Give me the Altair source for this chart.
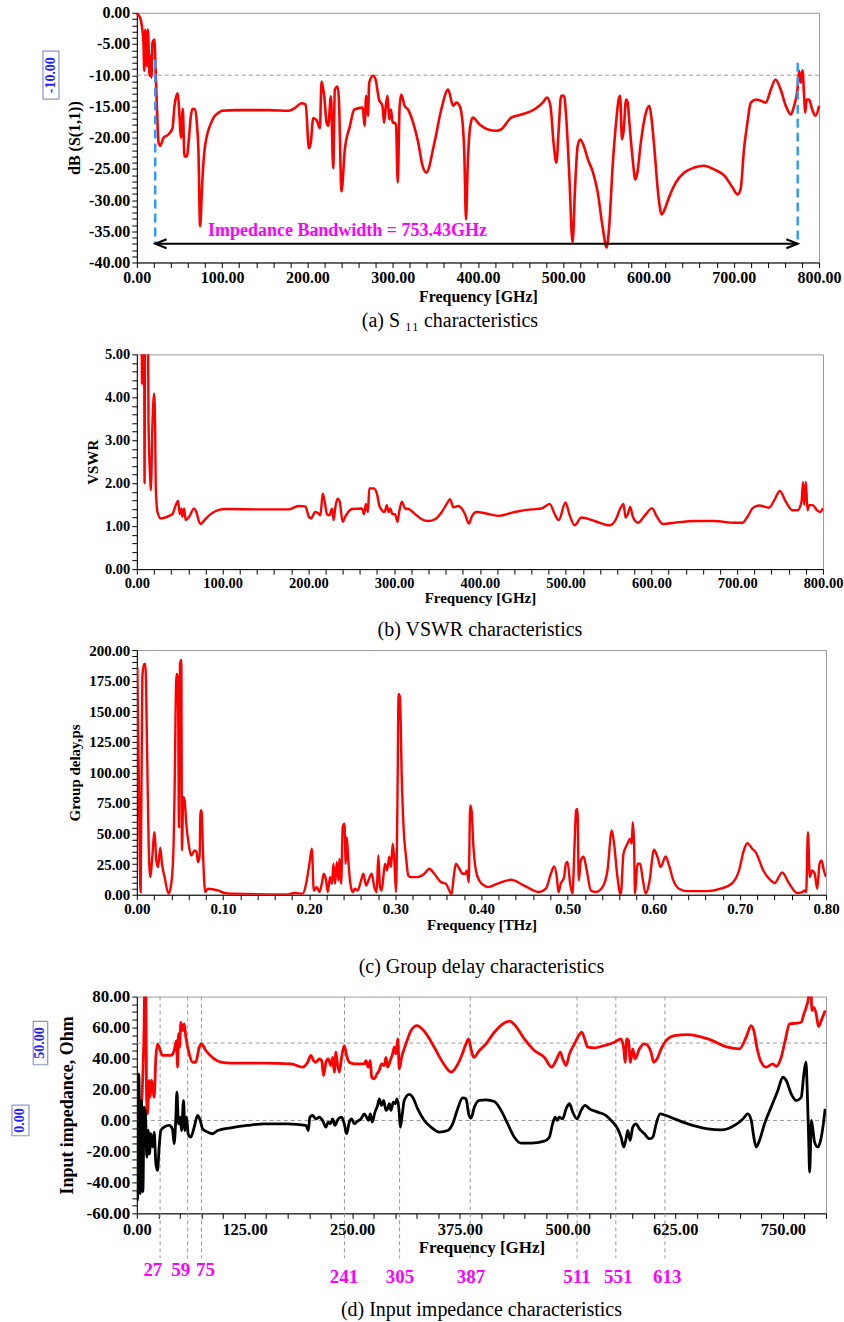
import altair as alt
import pandas as pd

FONT = "Liberation Serif"
RED = "#FF0000"
MAGENTA = "#FF00FF"
BLUE_TXT = "#1F1FFF"
BOX = "#8A96C8"
GRID = "#9A9A9A"

# ---------------- (a) S11 ----------------
s11_freq = [0, 3.9, 5.9, 7.8, 8.8, 9.8, 11.8, 13.0, 14.9, 16.0,
            17.0, 18.4, 20.8, 21.6, 23.5, 25.5, 27.3, 31.4, 37.0, 41.8,
            44.1, 47.0, 48.0, 49.6, 51.9, 53.9, 55.8, 58.5, 61.0, 63.0,
            65.2, 68.3, 70.6, 72.2, 74.2, 76.5, 79.0, 82.0, 86.0, 90.0,
            95.0, 100.0, 116.0, 155.0, 178.0, 186.0, 193.0, 198.0, 201.8, 204.0,
            206.9, 210.8, 214.7, 216.6, 219.8, 222.5, 224.4, 227.6, 230.3, 232.2,
            235.4, 237.0, 240.0, 243.9, 249.8, 255.0, 265.0, 267.0, 269.0, 271.0,
            272.5, 277.0, 280.0, 284.0, 288.0, 290.0, 292.0, 294.0, 296.0, 298.0,
            300.0, 302.0, 304.0, 306.0, 308.0, 310.0, 314.0, 318.0, 324.0, 330.0,
            335.0, 339.5, 349.0, 357.0, 365.0, 371.0, 374.6, 378.5, 382.0, 384.0,
            386.0, 388.0, 391.0, 394.0, 402.0, 412.0, 421.5, 427.0, 439.0, 451.0,
            466.0, 476.0, 481.0, 485.0, 489.0, 492.0, 494.5, 497.6, 501.0, 503.4,
            507.0, 511.0, 514.0, 517.0, 520.0, 524.0, 529.0, 535.0, 540.5, 546.0,
            551.0, 554.0, 558.0, 562.0, 565.0, 566.7, 569.0, 571.0, 573.7, 575.6,
            577.6, 581.5, 584.6, 587.0, 591.0, 597.0, 601.0, 603.7, 607.0, 611.6,
            615.5, 619.0, 624.0, 632.0, 642.0, 653.7, 665.0, 677.0, 689.0, 698.6,
            704.5, 708.0, 712.0, 716.0, 720.0, 726.0, 732.0, 737.6, 743.5, 749.0,
            755.0, 761.0, 767.0, 770.8, 774.7, 776.7, 778.6, 780.6, 782.5, 783.7,
            785.6, 788.3, 792.0, 796.0, 800.0]
s11_db = [-0.1, -0.8, -2.1, -4.8, -9.3, -2.7, -8.5, -2.7, -10.1, -6.9,
          -10.4, -4.8, -4.3, -7.5, -14.9, -20.8, -21.3, -20.0, -19.5, -18.5,
          -15.0, -13.1, -12.9, -15.6, -20.0, -15.4, -23.0, -23.0, -20.3, -17.0,
          -15.4, -15.5, -18.1, -21.9, -34.2, -27.7, -22.5, -19.8, -18.0, -16.8,
          -16.1, -15.7, -15.6, -15.6, -15.7, -15.2, -14.5, -14.7, -21.7, -20.8,
          -16.9, -17.2, -18.5, -11.0, -13.4, -17.6, -18.1, -13.4, -24.9, -12.3,
          -11.8, -14.0, -28.6, -21.9, -18.2, -15.5, -15.2, -18.1, -13.3, -16.5,
          -11.2, -10.1, -10.7, -13.9, -14.9, -17.6, -14.9, -13.3, -17.1, -15.5,
          -17.6, -17.6, -18.1, -27.2, -15.5, -13.1, -14.9, -15.5, -17.6, -20.8,
          -24.5, -25.6, -20.8, -15.5, -12.3, -14.9, -14.4, -14.9, -17.6, -22.4,
          -33.1, -24.5, -18.1, -16.8, -17.9, -18.7, -18.9, -18.7, -16.8, -16.3,
          -15.5, -14.4, -13.6, -14.9, -21.3, -24.0, -19.2, -13.3, -13.3, -16.5,
          -25.6, -36.8, -27.7, -21.3, -20.3, -21.3, -23.5, -25.6, -28.8, -34.1,
          -37.6, -34.1, -24.5, -17.6, -13.9, -13.3, -20.3, -18.7, -13.9, -14.4,
          -17.6, -23.5, -26.7, -25.6, -20.8, -16.0, -14.9, -17.1, -21.9, -29.3,
          -32.3, -31.5, -29.6, -27.2, -25.6, -24.8, -24.5, -25.1, -26.1, -28.0,
          -29.1, -28.3, -21.9, -17.6, -14.4, -13.9, -14.1, -14.4, -12.3, -10.7,
          -12.3, -14.9, -16.3, -14.9, -12.3, -9.3, -11.2, -9.2, -13.3, -16.0,
          -13.9, -13.9, -15.5, -16.5, -14.9]
s11_ref = -10.0
bw_edges = [21.57, 775.0]
bw_tops = [-7.5, -8.0]
bw_arrow_level = -37.0
bw_label = "Impedance Bandwidth = 753.43GHz"

# ---------------- (b) VSWR ----------------
vswr_freq = [0, 5.5, 6.0, 6.6, 8.2, 9.0, 10.0, 12.0, 13.6, 15.6,
             16.3, 18.3, 20.2, 21.4, 22.1, 24.1, 27.9, 37.7, 41.5, 45.4,
             48.1, 50.0, 52.0, 53.1, 55.1, 57.0, 61.0, 66.7, 69.4, 72.6,
             74.4, 78.4, 86.0, 95.8, 103.5, 146.0, 177.0, 188.8, 196.5, 200.5,
             203.0, 208.0, 212.0, 214.0, 216.7, 219.0, 221.7, 224.4, 227.6, 229.5,
             231.4, 234.2, 236.5, 240.0, 243.0, 250.8, 262.4, 265.0, 267.0, 269.4,
             271.0, 276.0, 279.9, 282.6, 285.7, 288.8, 291.5, 293.5, 295.5, 298.0,
             301.0, 303.9, 305.8, 309.0, 312.8, 316.7, 324.4, 332.2, 340.0, 347.7,
             355.5, 361.3, 365.1, 369.0, 374.9, 378.8, 382.6, 387.2, 390.4, 396.2,
             406.0, 421.4, 440.7, 460.0, 471.7, 481.4, 487.2, 491.9, 499.7, 504.7,
             510.5, 518.3, 533.7, 551.2, 559.0, 563.6, 567.4, 569.8, 572.5, 575.2,
             578.3, 584.2, 591.9, 600.8, 605.5, 613.3, 626.7, 650.0, 673.0, 696.5,
             706.0, 712.0, 718.0, 725.6, 737.2, 743.0, 749.7, 756.6, 764.4, 770.2,
             774.9, 776.8, 778.0, 780.0, 781.9, 783.8, 787.7, 793.6, 796.6, 800.0]
vswr_val = [60, 8, 4.32, 8, 9, 2.0, 9, 9, 3.43, 2.1,
            1.84, 3.43, 4.09, 3.19, 1.88, 1.33, 1.18, 1.24, 1.28, 1.49,
            1.59, 1.28, 1.41, 1.22, 1.41, 1.14, 1.22, 1.41, 1.33, 1.10,
            1.05, 1.13, 1.28, 1.38, 1.40, 1.39, 1.39, 1.47, 1.46, 1.22,
            1.18, 1.33, 1.29, 1.25, 1.76, 1.57, 1.28, 1.25, 1.41, 1.14,
            1.44, 1.64, 1.57, 1.10, 1.22, 1.40, 1.41, 1.28, 1.52, 1.33,
            1.88, 1.88, 1.76, 1.49, 1.37, 1.33, 1.49, 1.33, 1.41, 1.28,
            1.28, 1.10, 1.33, 1.57, 1.41, 1.40, 1.28, 1.16, 1.12, 1.16,
            1.33, 1.52, 1.63, 1.44, 1.47, 1.41, 1.28, 1.06, 1.22, 1.33,
            1.30, 1.24, 1.33, 1.39, 1.41, 1.52, 1.28, 1.14, 1.55, 1.25,
            1.02, 1.20, 1.12, 1.02, 1.18, 1.41, 1.52, 1.20, 1.28, 1.45,
            1.22, 1.08, 1.24, 1.42, 1.25, 1.05, 1.08, 1.12, 1.12, 1.08,
            1.08, 1.22, 1.42, 1.48, 1.43, 1.60, 1.82, 1.57, 1.37, 1.37,
            1.57, 2.03, 1.49, 2.03, 1.37, 1.49, 1.49, 1.36, 1.33, 1.42]

# ---------------- (c) group delay (frequency read in GHz) ----------------
gd_freq_ghz = [0.6, 2.1, 4.4, 6.4, 8.3, 9.9, 11.8, 13.7, 15.7, 17.6,
               20.6, 22.6, 24.6, 27.2, 29.2, 32.2, 36.9, 40.0, 42.7, 43.8,
               45.0, 46.1, 47.7, 48.9, 50.1, 51.6, 52.4, 53.9, 55.5, 57.4,
               60.1, 63.2, 67.0, 69.3, 70.9, 72.8, 74.0, 75.2, 76.7, 79.4,
               82.5, 94.1, 101.8, 109.5, 175.3, 183.0, 192.7, 196.5, 200.3, 203.1,
               205.4, 208.9, 212.0, 214.7, 217.0, 219.7, 221.6, 224.3, 226.6, 228.2,
               230.1, 232.1, 234.0, 235.2, 237.1, 239.0, 241.0, 242.5, 243.7, 245.6,
               247.9, 250.6, 253.3, 256.4, 260.3, 263.0, 266.1, 268.8, 272.6, 275.7,
               278.4, 280.3, 282.3, 284.2, 288.1, 290.4, 293.1, 295.0, 297.0, 298.9,
               300.8, 302.4, 303.9, 305.4, 307.5, 309.8, 312.5, 315.1, 318.2, 326.0,
               333.7, 339.5, 345.3, 353.0, 358.8, 362.7, 365.4, 367.8, 370.4, 374.3,
               378.2, 381.3, 383.2, 385.2, 387.0, 388.6, 390.5, 393.6, 397.5, 403.2,
               407.2, 418.8, 434.2, 449.6, 467.0, 474.8, 480.6, 484.4, 487.5, 489.4,
               492.1, 496.0, 498.0, 499.9, 503.0, 505.7, 508.0, 509.9, 511.5, 513.0,
               515.4, 518.5, 522.3, 527.0, 532.8, 540.5, 546.3, 551.3, 554.0, 557.9,
               561.7, 564.9, 569.5, 572.6, 574.5, 575.7, 577.2, 578.3, 581.1, 584.2,
               586.9, 590.8, 594.6, 600.4, 604.3, 608.1, 613.9, 617.8, 622.8, 629.3,
               639.0, 662.2, 677.7, 691.2, 699.0, 704.6, 708.6, 714.4, 718.3, 727.2,
               735.7, 740.3, 749.2, 756.9, 766.6, 772.4, 775.1, 777.0, 779.0, 781.2,
               783.8, 786.9, 789.8, 792.5, 794.8, 797.5, 800.0]
gd_ps = [185.9, 104, 2.2, 177.7, 188.6, 188.6, 123, 41.6, 14.4, 28,
         51.2, 28, 22.6, 38.4, 25.3, 14.4, 0.8, 9, 41.6, 82.4,
         150.4, 180.4, 177.7, 55.3, 188.6, 191.8, 36.2, 79.8, 77, 58,
         41.6, 32, 36.2, 35, 26.7, 31, 68.8, 68.8, 36.2, 2.2,
         4.9, 3.5, 1.4, 0.8, 0.3, 1.4, 0.8, 9, 25.3, 37.6,
         3.5, 6.2, 2.2, 9, 17.1, 11.7, 2.2, 14.4, 9, 25.3,
         9, 26.7, 11.7, 29.5, 9, 55.3, 58, 25.3, 47, 26.7,
         9, 2.2, 4.9, 3.5, 11.7, 17.1, 7.5, 11.7, 17.1, 6.2,
         2.2, 32, 6.2, 3.5, 25.3, 19.8, 31, 22.6, 41.6, 28,
         2.2, 68.8, 164, 161.4, 96, 52.5, 31, 15.8, 14.4, 14.4,
         17.1, 21.2, 17.1, 10.3, 9, 3.5, 0.3, 14.4, 25.3, 21.2,
         17.1, 17.1, 19.8, 10.3, 72.9, 68.8, 41.6, 19.8, 11.7, 7.5,
         6.2, 9, 12.2, 7.5, 2.2, 4.9, 17.1, 23.1, 14.4, 2.2,
         9, 14.4, 25.3, 26.7, 9, 0.8, 38.9, 68.8, 70.2, 11.7,
         28, 31, 19.8, 3.5, 2.2, 6.2, 19.8, 52.5, 41.6, 14.4,
         0, 33.5, 41.6, 45.7, 41.6, 59.3, 41.6, 0.8, 25.3, 25.3,
         14.4, 0.8, 9, 36.7, 31, 22.6, 31.3, 23.9, 11.7, 4.9,
         2.9, 2.9, 4.9, 9.5, 19.8, 36.2, 42.2, 37.6, 34.8, 19.8,
         11.7, 9.5, 18.2, 9.5, 1.4, 2.2, 3.5, 2.2, 51.2, 14.4,
         19.8, 17.1, 4.9, 25.3, 28, 19.8, 14.4]

# ---------------- (d) input impedance ----------------
zre_freq = [0, 2.4, 5.4, 7.0, 8.5, 9.3, 10.4, 11.2, 12.4, 14.3,
            15.5, 17.0, 19.0, 20.1, 22.1, 24.0, 25.9, 29.8, 39.5, 43.3,
            46.1, 47.3, 48.4, 49.6, 51.1, 53.0, 55.0, 56.9, 60.8, 64.7,
            68.5, 72.4, 75.1, 80.1, 89.8, 97.6, 109.2, 147.9, 178.9, 192.4,
            198.3, 202.1, 205.2, 207.9, 211.8, 214.5, 216.8, 219.5, 222.2, 225.3,
            227.3, 229.2, 231.1, 232.3, 235.0, 237.7, 240.8, 243.5, 246.6, 252.4,
            264.0, 266.0, 268.7, 271.0, 272.6, 275.7, 278.7, 281.4, 284.1, 287.2,
            289.2, 291.1, 294.2, 296.9, 298.9, 300.8, 302.8, 304.7, 307.4, 312.4,
            318.2, 325.2, 333.7, 345.3, 355.0, 364.7, 370.5, 376.3, 382.1, 385.2,
            387.9, 391.0, 397.6, 405.3, 415.0, 432.4, 438.2, 449.8, 461.4, 473.0,
            481.6, 486.6, 491.6, 494.3, 498.3, 502.2, 508.0, 511.8, 516.5, 520.4,
            523.4, 531.1, 542.7, 554.3, 562.1, 565.2, 566.8, 568.7, 570.7, 573.0,
            575.7, 578.4, 583.4, 589.2, 593.1, 596.9, 600.0, 603.9, 608.6, 614.4,
            624.0, 639.6, 662.8, 686.0, 699.5, 707.3, 713.1, 716.2, 720.1, 724.7,
            730.5, 738.3, 742.1, 748.0, 752.6, 757.7, 765.4, 771.2, 774.3, 777.0,
            779.7, 782.0, 783.6, 786.0, 788.6, 791.3, 795.2, 799.0]
zre_ohm = [2.1, 7.5, 10.8, 30.1, 62.4, 95, 95, 19.4, 4.3, 25.8,
           15, 26.1, 19.4, 15, 40.8, 49.5, 47.3, 42, 42, 45.2,
           51.6, 34.4, 56, 47.3, 63.4, 58, 62.4, 53.8, 43, 37.6,
           37.6, 47.3, 49.5, 45.2, 39.8, 37.6, 37, 37, 36.6, 34.4,
           37.6, 42, 38.7, 37.6, 39.8, 38.7, 29, 37.6, 39.8, 35.5,
           40.8, 31.2, 44.1, 38.7, 31.2, 40.8, 48.4, 42, 37.6, 36.6,
           36.6, 38.7, 34.4, 38.7, 27.9, 26.9, 30.1, 32.3, 36.6, 35.5,
           40.8, 34.4, 38.7, 43, 47.3, 43, 52.7, 33.4, 40.8, 49.5,
           58, 61.3, 57.6, 47.3, 37.6, 31.2, 34.4, 40.8, 49.5, 52.7,
           46.3, 40.8, 45.2, 49.5, 57, 64.1, 62, 52.7, 45.2, 40.8,
           34.4, 38.7, 44.1, 39.8, 35.5, 43, 49.5, 53.8, 57, 51.6,
           47.3, 46.9, 48.4, 50.5, 52.7, 46.3, 37.6, 52.7, 51.6, 37.6,
           46.3, 39.8, 46.3, 49.5, 48.4, 44.1, 37.6, 39.8, 46.3, 51.6,
           54.8, 55.5, 52.7, 47.3, 46.3, 53.8, 61.3, 58, 46.3, 37.6,
           34.4, 36.6, 34.9, 40.8, 51.6, 62.4, 62.8, 63.4, 68.8, 73.1,
           79.5, 95, 71, 73.1, 68.8, 60.6, 65.6, 71]
zim_freq = [0, 0.8, 2.3, 3.9, 5.4, 7.0, 8.5, 10.0, 11.6, 13.2,
            14.7, 16.3, 18.2, 20.1, 22.1, 24.0, 25.9, 27.9, 31.7, 37.5,
            41.3, 43.3, 45.3, 46.5, 48.4, 50.3, 51.9, 54.2, 55.8, 57.7,
            59.6, 62.7, 66.6, 70.5, 73.6, 76.3, 82.1, 87.9, 93.8, 109.2,
            128.5, 147.9, 175.0, 196.3, 199.0, 200.9, 204.0, 207.9, 211.8, 215.6,
            219.5, 222.2, 224.5, 227.3, 229.9, 233.8, 237.7, 240.8, 243.5, 246.6,
            249.3, 252.4, 256.2, 260.1, 264.0, 266.7, 269.0, 271.0, 273.3, 276.4,
            279.5, 281.4, 284.1, 286.5, 289.2, 291.1, 293.1, 295.0, 297.7, 300.0,
            302.0, 304.7, 305.8, 307.7, 310.4, 316.3, 320.2, 326.0, 333.7, 341.5,
            351.1, 360.8, 366.6, 372.4, 378.2, 382.1, 385.2, 387.9, 391.8, 397.6,
            405.3, 415.0, 422.8, 430.5, 438.2, 446.0, 457.6, 473.0, 478.8, 482.6,
            485.5, 487.8, 490.5, 494.3, 498.3, 502.2, 506.0, 511.0, 515.7, 520.3,
            525.4, 535.0, 544.7, 552.4, 558.2, 562.1, 565.2, 567.9, 569.9, 572.6,
            575.7, 579.5, 583.4, 589.2, 595.0, 598.9, 602.8, 607.4, 614.4, 624.0,
            639.6, 662.8, 678.3, 693.8, 703.5, 709.3, 713.2, 716.2, 718.9, 722.8,
            728.6, 736.3, 744.1, 749.9, 753.8, 759.6, 765.4, 771.2, 774.3, 776.7,
            778.2, 779.8, 781.0, 783.0, 784.9, 786.7, 790.6, 793.7, 796.4, 799.0]
zim_ohm = [-45.2, -51.6, 30.1, -47.3, 12.9, -46, 8.6, 4.3, -23.7, -6.5,
           -21.5, -8.6, -17.2, -7.5, -28, -32.3, -17.2, -6.5, -4.3, -3.2,
           -5.4, -15, 2.1, 18.3, -2.2, 2.1, -6.5, 12.9, -6.5, 2.1,
           -8.6, -10.8, -4.3, 3.2, 0, -5.4, -7.5, -8.6, -6.5, -4.8,
           -3.2, -2.2, -2.2, -3.2, -6.5, 2.1, 3.2, 1, 2.1, 0,
           -4.3, -1.1, -2.2, 1, -3.2, 1, 2.1, -2.2, -8.6, -1.1,
           1, -2.2, -0.5, 1, 4.3, 2.1, 0, 4.3, -1.1, 5.4,
           9.7, 14, 9.7, 12.9, 6.5, 7.5, 10.8, 6.5, 11.8, 10.8,
           14, 4.3, -4.3, 2.1, 12.9, 16.8, 15, 7.5, 0, -4.3,
           -7.5, -6.5, -2.2, 7.5, 14.6, 14, 4.3, 1.6, 8.6, 12.9,
           13.3, 12.2, 6.5, -2.2, -10.8, -14.6, -14.6, -13.3, -10.8, -2.2,
           2.1, 0, 2.1, 1, 7.5, 10.8, 5.4, 1, 6.5, 9.7,
           7.5, 5.4, 3.2, -1.1, -5.4, -10.8, -17.2, -11.8, -6.5, -12.9,
           -4.3, -2.2, -5.4, -8.6, -11.8, -10.8, -2.2, 4.3, 3.2, 1,
           -2.2, -5.4, -6.1, -3.2, 1, 4.3, 0, -10.8, -17.2, -12.9,
           -2.2, 8.6, 19.4, 27.9, 25.8, 17.2, 12.9, 15, 30.1, 37.6,
           19.4, -10.8, -33.4, 0, -6.5, -14, -17.2, -12.9, -4.3, 7.5]
z_refs = [50.0, 0.0]
z_ref_labels = ["50.00", "0.00"]
z_marker_freq = [27, 59, 75, 241, 305, 387, 511, 556, 613]
z_label_text_1 = ["27", "59", "75"]
z_label_pos_1 = [18.6, 51.0, 79.6]
z_label_text_2 = ["241", "305", "387", "511", "551", "613"]
z_label_pos_2 = [240.4, 305.5, 388.0, 511.0, 558.7, 615.6]

captions = ["(a) S \u2081\u2081 characteristics", "(b) VSWR characteristics",
            "(c) Group delay characteristics", "(d) Input impedance characteristics"]


# ---------------- helpers ----------------
def ticks(lo, hi, step):
    n = int(round((hi - lo) / step))
    return [round(lo + i * step, 4) for i in range(n + 1)]


def lab(mod):
    return ("abs(datum.value/%s - round(datum.value/%s)) < 1e-6 ? "
            "(datum.value < 0 ? '-' : '') + format(abs(datum.value), '.2f') : ''" % (mod, mod))


def axis(vals, mod, title, lfs, tfs, tpad, lpad=2):
    return alt.Axis(values=vals, labelExpr=lab(mod), title=title, labelFontSize=lfs,
                    titleFontSize=tfs, titlePadding=tpad, labelPadding=lpad, tickSize=5,
                    labelOverlap=False, labelFlush=False, grid=False, domainColor="black",
                    tickColor="black", labelColor="black", titleColor="black",
                    labelFont=FONT, titleFont=FONT, labelFontWeight="bold",
                    titleFontWeight="bold", domainWidth=1, tickWidth=1)


def caption(text, offset, dx=0):
    return alt.TitleParams(text=text, orient="bottom", anchor="middle", font=FONT,
                           fontSize=20, fontWeight="normal", color="black",
                           offset=offset, dx=dx)


def extender(px):
    return alt.Chart(pd.DataFrame({"k": [0]})).mark_rule(opacity=0).encode(
        x=alt.value(0), y=alt.value(px), y2=alt.value(0))


def marker_box(df, y, xpx, path, size, fs):
    box = alt.Chart(df).mark_point(shape=path, size=size, filled=False, color=BOX,
                                   strokeWidth=1.2, opacity=1).encode(x=alt.value(xpx), y=y)
    txt = alt.Chart(df).mark_text(font=FONT, fontSize=fs, fontWeight="bold", color=BLUE_TXT,
                                  angle=270, align="center", baseline="middle").encode(
        x=alt.value(xpx), y=y, text="t:N")
    return box + txt


INTERP = "monotone"

# ---------------- panel (a) ----------------
xa = alt.X("f:Q", scale=alt.Scale(domain=[0, 800], nice=False),
           axis=axis(ticks(0, 800, 20), 100, "Frequency [GHz]", 16, 16, 3))
ya = alt.Y("v:Q", scale=alt.Scale(domain=[-40, 0], nice=False),
           axis=axis(ticks(-40, 0, 1), 5, "dB (S(1,1))", 16, 16, 6))

a_line = alt.Chart(pd.DataFrame({"f": s11_freq, "v": s11_db})).mark_line(
    color=RED, strokeWidth=2.6, interpolate=INTERP).encode(x=xa, y=ya)
a_ref = alt.Chart(pd.DataFrame({"v": [s11_ref]})).mark_rule(
    color=GRID, strokeDash=[4, 3], strokeWidth=1).encode(y=ya)
a_bw = alt.Chart(pd.DataFrame({"f": bw_edges, "v": bw_tops, "v2": [bw_arrow_level] * 2})).mark_rule(
    color="#3399FF", strokeWidth=2.5, strokeDash=[9, 5]).encode(x=xa, y=ya, y2=alt.Y2("v2:Q"))
a_arrow = alt.Chart(pd.DataFrame({"f": [bw_edges[0]], "f2": [bw_edges[1]], "v": [bw_arrow_level]})).mark_rule(
    color="black", strokeWidth=2).encode(x=xa, x2=alt.X2("f2:Q"), y=ya)
a_head_l = alt.Chart(pd.DataFrame({"f": [bw_edges[0]], "v": [bw_arrow_level]})).mark_point(
    shape="M1.9,-0.75L0,0L1.9,0.75", size=144, filled=False, color="black",
    strokeWidth=2, opacity=1).encode(x=xa, y=ya)
a_head_r = alt.Chart(pd.DataFrame({"f": [bw_edges[1]], "v": [bw_arrow_level]})).mark_point(
    shape="M-1.9,-0.75L0,0L-1.9,0.75", size=144, filled=False, color="black",
    strokeWidth=2, opacity=1).encode(x=xa, y=ya)
a_text = alt.Chart(pd.DataFrame({"f": [247.0], "v": [-35.0], "t": [bw_label]})).mark_text(
    font=FONT, fontSize=18, fontWeight="bold", color=MAGENTA, align="center",
    baseline="middle").encode(x=xa, y=ya, text="t:N")
a_mark = marker_box(pd.DataFrame({"v": [s11_ref], "t": ["-10.00"]}), ya, -86,
                    "M-1,-3L1,-3L1,3L-1,3Z", 256, 14)

panel_a = alt.layer(a_ref, a_line, a_bw, a_arrow, a_head_l, a_head_r, a_text, a_mark).properties(
    width=683, height=250, title=caption(captions[0], 7, -28))

# ---------------- panel (b) ----------------
xb = alt.X("f:Q", scale=alt.Scale(domain=[0, 800], nice=False),
           axis=axis(ticks(0, 800, 20), 100, "Frequency [GHz]", 14.5, 15, 1))
yb = alt.Y("v:Q", scale=alt.Scale(domain=[0, 5], nice=False),
           axis=axis(ticks(0, 5, 0.2), 1, "VSWR", 14.5, 15, 4))
b_line = alt.Chart(pd.DataFrame({"f": vswr_freq, "v": vswr_val})).mark_line(
    color=RED, strokeWidth=2.4, clip=True, interpolate=INTERP).encode(x=xb, y=yb)
panel_b = alt.layer(extender(-21), b_line).properties(
    width=687, height=215, title=caption(captions[1], 14))

# ---------------- panel (c) ----------------
xc = alt.X("f:Q", scale=alt.Scale(domain=[0, 0.8], nice=False),
           axis=axis(ticks(0, 0.8, 0.02), 0.1, "Frequency [THz]", 15, 15, 1))
yc = alt.Y("v:Q", scale=alt.Scale(domain=[0, 200], nice=False),
           axis=axis(ticks(0, 200, 5), 25, "Group delay,ps", 15, 15, 6))
c_line = alt.Chart(pd.DataFrame({"f": [g / 1000.0 for g in gd_freq_ghz], "v": gd_ps})).mark_line(
    color=RED, strokeWidth=2.4, clip=True, interpolate=INTERP).encode(x=xc, y=yc)
panel_c = alt.layer(extender(-9), c_line).properties(
    width=690, height=245, title=caption(captions[2], 24))

# ---------------- panel (d) ----------------
xd = alt.X("f:Q", scale=alt.Scale(domain=[0, 800], nice=False),
           axis=axis(ticks(0, 800, 25), 125, "Frequency [GHz]", 16.5, 17, 2, 3))
yd = alt.Y("v:Q", scale=alt.Scale(domain=[-60, 80], nice=False),
           axis=axis(ticks(-60, 80, 5), 20, "Input impedance, Ohm", 17, 18, 10))
d_refs = alt.Chart(pd.DataFrame({"v": z_refs})).mark_rule(
    color=GRID, strokeDash=[4, 3], strokeWidth=1).encode(y=yd)
d_vlines = alt.Chart(pd.DataFrame({"f": z_marker_freq})).mark_rule(
    color=GRID, strokeDash=[4, 3], strokeWidth=1).encode(x=xd, y=alt.value(0), y2=alt.value(262))
d_re = alt.Chart(pd.DataFrame({"f": zre_freq, "v": zre_ohm})).mark_line(
    color=RED, strokeWidth=2.8, clip=True, interpolate=INTERP).encode(x=xd, y=yd)
d_im = alt.Chart(pd.DataFrame({"f": zim_freq, "v": zim_ohm})).mark_line(
    color="black", strokeWidth=2.8, clip=True, interpolate=INTERP).encode(x=xd, y=yd)
lab_style = dict(font=FONT, fontSize=19, fontWeight="bold", color=MAGENTA,
                 align="center", baseline="middle")
d_lab1 = alt.Chart(pd.DataFrame({"f": z_label_pos_1, "t": z_label_text_1})).mark_text(
    **lab_style).encode(x=xd, y=alt.value(274), text="t:N")
d_lab2 = alt.Chart(pd.DataFrame({"f": z_label_pos_2, "t": z_label_text_2})).mark_text(
    **lab_style).encode(x=xd, y=alt.value(281), text="t:N")
d_m50 = marker_box(pd.DataFrame({"v": [z_refs[0]], "t": [z_ref_labels[0]]}), yd, -96.5,
                   "M-1,-3L1,-3L1,3L-1,3Z", 210, 14)
d_m0 = marker_box(pd.DataFrame({"v": [z_refs[1]], "t": [z_ref_labels[1]]}), yd, -116.5,
                  "M-1,-1.8L1,-1.8L1,1.8L-1,1.8Z", 289, 14)
panel_d = alt.layer(extender(-18), d_refs, d_vlines, d_re, d_im, d_lab1, d_lab2, d_m50, d_m0).properties(
    width=690, height=217, title=caption(captions[3], 13))

chart = alt.vconcat(panel_a, panel_b, panel_c, panel_d, spacing=0).properties(
    padding={"left": 9, "top": 3, "right": 0, "bottom": 0}
).configure_view(stroke="#9A9A9A", strokeWidth=1)

chart.save("out.html", embed_options={"renderer": "svg", "actions": False})
